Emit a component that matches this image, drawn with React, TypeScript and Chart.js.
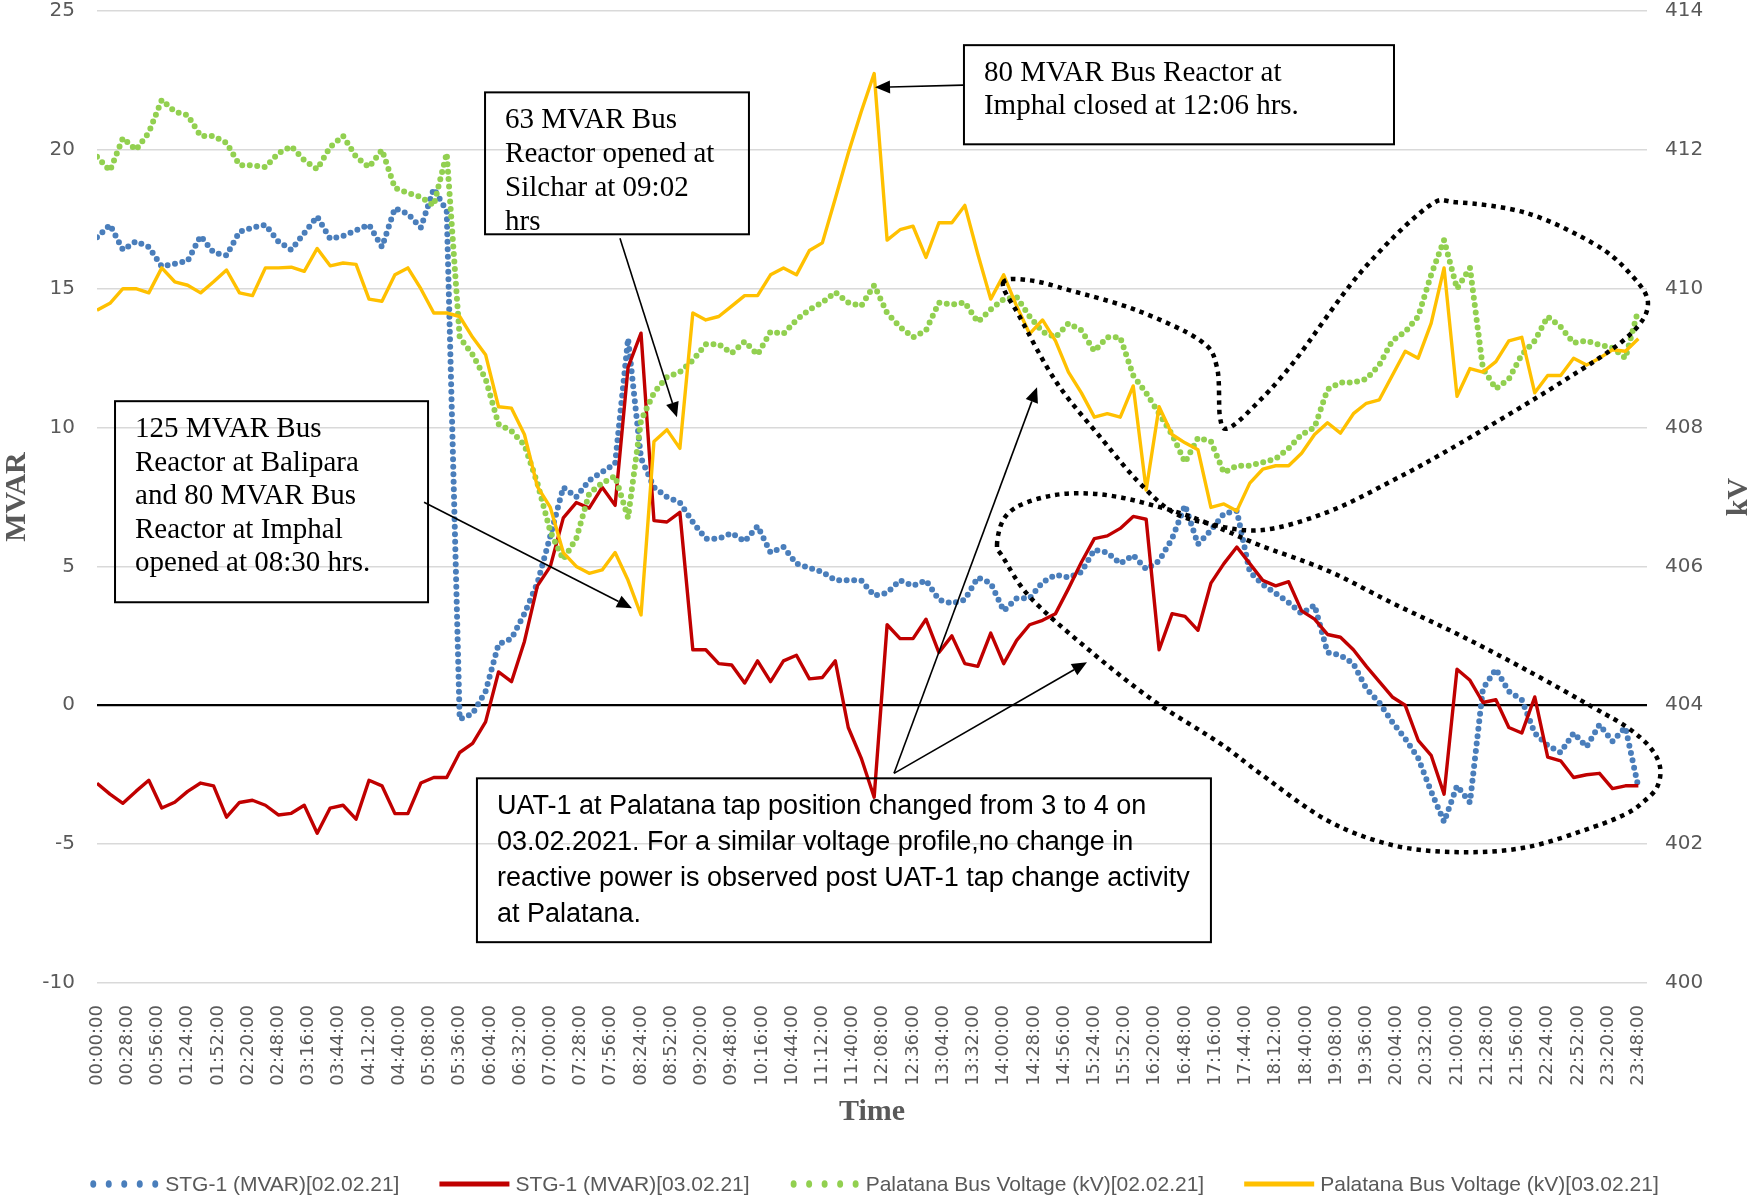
import React, { useEffect, useRef } from "react";
import { Chart, registerables } from "chart.js";

Chart.register(...registerables);

const W = 1756;
const H = 1199;

// sampling grid of the series (minutes after midnight)
const STEP_MIN = 12;
const X_MAX_MIN = 1436;
const X_TICK_STEP_MIN = 28;

const MVAR_MIN = -10;
const MVAR_MAX = 25;
const MVAR_STEP = 5;
const KV_MIN = 400;
const KV_MAX = 414;
const KV_STEP = 2;

const SERIES_LABELS = [
  "STG-1 (MVAR)[02.02.21]",
  "STG-1 (MVAR)[03.02.21]",
  "Palatana Bus Voltage (kV)[02.02.21]",
  "Palatana Bus Voltage (kV)[03.02.21]",
];

// STG-1 reactive power, 02.02.21 (MVAR)
const STG1_MVAR_0202 = [
  16.85, 17.3, 16.4, 16.7, 16.5, 15.8, 15.9, 16.0, 16.9, 16.3,
  16.2, 17.05, 17.2, 17.3, 16.7, 16.4, 17.0, 17.6, 16.8, 16.9,
  17.1, 17.3, 16.5, 17.9, 17.7, 17.2, 18.6, 17.8, -0.5, -0.3,
  0.5, 2.2, 2.4, 3.3, 4.4, 6.1, 7.85, 7.5, 8.1, 8.4,
  8.7, 13.2, 8.9, 7.85, 7.5, 7.3, 6.6, 6.0, 6.0, 6.2,
  5.9, 6.45, 5.5, 5.7, 5.1, 4.95, 4.8, 4.5, 4.5, 4.5,
  3.95, 4.05, 4.5, 4.3, 4.5, 3.8, 3.67, 3.8, 4.6, 4.4,
  3.4, 3.85, 3.85, 4.43, 4.7, 4.6, 4.8, 5.6, 5.5, 5.1,
  5.4, 4.9, 5.2, 6.0, 7.2, 5.8, 6.3, 6.9, 7.0, 4.8,
  4.35, 4.03, 3.7, 3.3, 3.6, 1.9, 1.8, 1.5, 0.6, 0.1,
  -0.6, -1.2, -1.9, -3.1, -4.2, -2.9, -3.5, 0.6, 1.3, 0.5,
  0.2, -1.0, -1.45, -1.7, -1.0, -1.5, -0.7, -1.3, -0.8, -2.95,
];

// STG-1 reactive power, 03.02.21 (MVAR)
const STG1_MVAR_0302 = [
  -2.81, -3.2, -3.53, -3.1, -2.7, -3.7, -3.49, -3.1, -2.8, -2.9,
  -4.03, -3.5, -3.42, -3.6, -3.95, -3.89, -3.6, -4.61, -3.7, -3.6,
  -4.1, -2.7, -2.9, -3.9, -3.9, -2.8, -2.6, -2.6, -1.7, -1.37,
  -0.6, 1.2, 0.85, 2.3, 4.3, 5.0, 6.75, 7.3, 7.1, 7.85,
  7.2, 12.17, 13.4, 6.65, 6.6, 6.95, 2.0, 2.0, 1.5, 1.45,
  0.8, 1.6, 0.85, 1.6, 1.8, 0.95, 1.0, 1.6, -0.8, -1.9,
  -3.31, 2.9, 2.4, 2.4, 3.1, 1.9, 2.5, 1.5, 1.4, 2.6,
  1.5, 2.34, 2.9, 3.06, 3.3, 4.2, 5.15, 6.0, 6.1, 6.37,
  6.8, 6.7, 2.0, 3.3, 3.2, 2.7, 4.4, 5.1, 5.7, 5.1,
  4.5, 4.3, 4.45, 3.4, 3.1, 2.55, 2.45, 2.0, 1.4, 0.85,
  0.3, 0.0, -1.26, -1.8, -3.2, 1.3, 0.9, 0.1, 0.2, -0.8,
  -1.0, 0.3, -1.87, -2.0, -2.6, -2.5, -2.45, -3.0, -2.9, -2.9,
];

// Palatana bus voltage, 02.02.21 (kV)
const BUS_KV_0202 = [
  411.9, 411.7, 412.17, 412.0, 412.25, 412.72, 412.55, 412.5, 412.2, 412.2,
  412.1, 411.78, 411.78, 411.75, 411.95, 412.05, 411.85, 411.72, 412.04, 412.2,
  411.9, 411.75, 412.0, 411.45, 411.38, 411.32, 411.2, 411.95, 409.3, 409.05,
  408.7, 408.05, 407.95, 407.75, 407.2, 406.5, 406.1, 406.4, 407.05, 407.2,
  407.3, 406.7, 408.1, 408.5, 408.73, 408.8, 408.97, 409.2, 409.2, 409.07,
  409.24, 409.05, 409.38, 409.35, 409.55, 409.7, 409.8, 409.95, 409.8, 409.75,
  410.05, 409.65, 409.45, 409.3, 409.4, 409.8, 409.77, 409.8, 409.52, 409.7,
  409.85, 409.88, 409.6, 409.38, 409.3, 409.5, 409.4, 409.1, 409.3, 409.3,
  408.75, 408.5, 408.2, 407.9, 407.5, 407.85, 407.8, 407.35, 407.45, 407.45,
  407.5, 407.55, 407.7, 407.9, 408.0, 408.55, 408.65, 408.65, 408.7, 408.9,
  409.25, 409.38, 409.6, 410.2, 410.7, 410.0, 410.3, 408.85, 408.56, 408.7,
  409.05, 409.25, 409.6, 409.45, 409.22, 409.25, 409.19, 409.15, 409.0, 409.7,
];

// Palatana bus voltage, 03.02.21 (kV)
const BUS_KV_0302 = [
  409.69, 409.79, 410.0, 410.0, 409.94, 410.3, 410.1, 410.05, 409.94, 410.1,
  410.27, 409.94, 409.9, 410.3, 410.3, 410.31, 410.25, 410.58, 410.33, 410.37,
  410.35, 409.85, 409.82, 410.2, 410.3, 410.0, 409.65, 409.65, 409.6, 409.3,
  409.05, 408.3, 408.28, 407.9, 407.15, 406.85, 406.2, 406.0, 405.9, 405.95,
  406.2, 405.8, 405.3, 407.8, 407.97, 407.7, 409.65, 409.55, 409.6, 409.75,
  409.9, 409.9, 410.2, 410.3, 410.2, 410.55, 410.66, 411.3, 411.95, 412.55,
  413.1, 410.7, 410.85, 410.9, 410.45, 410.95, 410.95, 411.2, 410.5, 409.85,
  410.2, 409.75, 409.35, 409.55, 409.25, 408.8, 408.5, 408.15, 408.2, 408.15,
  408.6, 407.1, 408.3, 407.9, 407.78, 407.68, 406.85, 406.9, 406.8, 407.2,
  407.4, 407.45, 407.45, 407.63, 407.9, 408.07, 407.92, 408.2, 408.35, 408.4,
  408.75, 409.1, 409.0, 409.5, 410.3, 408.45, 408.85, 408.8, 408.95, 409.25,
  409.3, 408.5, 408.75, 408.75, 409.0, 408.9, 409.0, 409.12, 409.1, 409.28,
];

const SERIES_COLORS = ["#4a7ebb", "#c00000", "#92d050", "#ffc000"];

// Annotations, anchored in data units (x: minutes, y: MVAR)
const SERIF = '29px "Liberation Serif"';
const SANS = '27px "Liberation Sans"';
const NOTE_BOXES = [
  {
    x0: 16.7, x1: 306.7, yTop: 10.95, yBot: 3.71, font: SERIF, lineH: 33.5,
    lines: ["125 MVAR Bus", "Reactor at Balipara", "and 80 MVAR Bus", "Reactor at Imphal", "opened at 08:30 hrs."],
  },
  {
    x0: 359.5, x1: 604, yTop: 22.07, yBot: 16.96, font: SERIF, lineH: 34,
    lines: ["63 MVAR Bus", "Reactor opened at", "Silchar at 09:02", "hrs"],
  },
  {
    x0: 803.2, x1: 1201.6, yTop: 23.77, yBot: 20.2, font: SERIF, lineH: 33,
    lines: ["80 MVAR Bus Reactor at", "Imphal closed at 12:06 hrs."],
  },
  {
    x0: 352, x1: 1032, yTop: -2.63, yBot: -8.53, font: SANS, lineH: 36,
    lines: [
      "UAT-1 at Palatana tap position changed from 3 to 4 on",
      "03.02.2021. For a similar voltage profile,no change in",
      "reactive power is observed post UAT-1 tap change activity",
      "at Palatana.",
    ],
  },
];

const NOTE_ARROWS = [
  { from: [303, 7.31], to: [495.6, 3.49] },
  { from: [484.5, 16.82], to: [537.3, 10.37] },
  { from: [802.3, 22.33], to: [720.8, 22.25] },
  { from: [738.4, -2.45], to: [870.9, 11.45] },
  { from: [738.4, -2.45], to: [917.2, 1.55] },
];

const LOOP_VOLTAGE = [
  [839.4, 15.2], [864.4, 15.3], [901.4, 14.94], [963.5, 14.22], [1021.9, 13.14],
  [1037.6, 12.17], [1040.4, 10.37], [1047.8, 9.97], [1071.0, 10.73], [1108.0, 12.32],
  [1170.1, 15.56], [1232.2, 17.93], [1260.0, 18.11], [1324.8, 17.72], [1385.9, 16.64],
  [1417.5, 15.66], [1436.9, 14.48], [1417.5, 13.25], [1355.4, 11.6], [1262.7, 9.43],
  [1200.7, 8.1], [1139.5, 6.95], [1077.4, 6.3], [1024.6, 6.59], [994.1, 7.02],
  [963.5, 8.1], [932.0, 9.54], [889.4, 11.6], [855.1, 13.97],
];

const LOOP_MVAR = [
  [833.8, 5.76], [839.4, 6.66], [855.1, 7.2], [885.7, 7.56], [917.2, 7.63],
  [947.7, 7.49], [978.3, 7.2], [1009.8, 6.84], [1045.0, 6.3], [1077.4, 5.76],
  [1139.5, 4.86], [1200.7, 3.67], [1262.7, 2.52], [1324.8, 1.26], [1385.9, -0.07],
  [1417.5, -0.79], [1438.8, -1.51], [1448.1, -2.23], [1445.3, -2.95], [1432.3, -3.49],
  [1417.5, -3.89], [1385.9, -4.39], [1324.8, -5.11], [1262.7, -5.29], [1200.7, -5.04],
  [1139.5, -4.14], [1077.4, -2.45], [1040.4, -1.37], [978.3, 0.18], [917.2, 2.05],
  [864.4, 3.89], [839.4, 5.33],
];

function toPoints(values: number[]) {
  return values.map((v, i) => ({ x: i * STEP_MIN, y: v }));
}

function pad2(n: number) {
  return n < 10 ? "0" + n : String(n);
}

function fmtTime(min: number) {
  const h = Math.floor(min / 60);
  const m = Math.round(min % 60);
  return `${pad2(h)}:${pad2(m)}:00`;
}

function closedSpline(ctx: CanvasRenderingContext2D, pts: number[][]) {
  const n = pts.length;
  ctx.moveTo(pts[0][0], pts[0][1]);
  for (let i = 0; i < n; i++) {
    const p0 = pts[(i - 1 + n) % n];
    const p1 = pts[i];
    const p2 = pts[(i + 1) % n];
    const p3 = pts[(i + 2) % n];
    ctx.bezierCurveTo(
      p1[0] + (p2[0] - p0[0]) / 6,
      p1[1] + (p2[1] - p0[1]) / 6,
      p2[0] - (p3[0] - p1[0]) / 6,
      p2[1] - (p3[1] - p1[1]) / 6,
      p2[0],
      p2[1]
    );
  }
  ctx.closePath();
}

const notesPlugin = {
  id: "notes",
  afterDraw(chart: any) {
    const ctx: CanvasRenderingContext2D = chart.ctx;
    const xs = chart.scales.x;
    const ys = chart.scales.y;
    const area = chart.chartArea;
    const px = (m: number) => xs.getPixelForValue(m);
    const py = (v: number) => ys.getPixelForValue(v);

    ctx.save();

    // text boxes
    for (const b of NOTE_BOXES) {
      const l = px(b.x0);
      const r = px(b.x1);
      const t = py(b.yTop);
      const bt = py(b.yBot);
      ctx.setLineDash([]);
      ctx.strokeStyle = "#000";
      ctx.lineWidth = 2;
      ctx.strokeRect(l, t, r - l, bt - t);
      ctx.fillStyle = "#000";
      ctx.font = b.font;
      ctx.textAlign = "left";
      ctx.textBaseline = "alphabetic";
      b.lines.forEach((s, i) => ctx.fillText(s, l + 20, t + 36 + i * b.lineH));
    }

    // arrows
    for (const a of NOTE_ARROWS) {
      const x1 = px(a.from[0]);
      const y1 = py(a.from[1]);
      const x2 = px(a.to[0]);
      const y2 = py(a.to[1]);
      const ang = Math.atan2(y2 - y1, x2 - x1);
      const len = 15;
      const hw = 6.5;
      const bx = x2 - len * Math.cos(ang);
      const by = y2 - len * Math.sin(ang);
      ctx.strokeStyle = "#000";
      ctx.lineWidth = 1.6;
      ctx.beginPath();
      ctx.moveTo(x1, y1);
      ctx.lineTo(bx, by);
      ctx.stroke();
      ctx.fillStyle = "#000";
      ctx.beginPath();
      ctx.moveTo(x2, y2);
      ctx.lineTo(bx + hw * Math.sin(ang), by - hw * Math.cos(ang));
      ctx.lineTo(bx - hw * Math.sin(ang), by + hw * Math.cos(ang));
      ctx.closePath();
      ctx.fill();
    }

    // dotted loops
    ctx.strokeStyle = "#000";
    ctx.lineWidth = 4.5;
    ctx.lineCap = "butt";
    ctx.setLineDash([4.5, 5]);
    for (const loop of [LOOP_VOLTAGE, LOOP_MVAR]) {
      ctx.beginPath();
      closedSpline(ctx, loop.map((p) => [px(p[0]), py(p[1])]));
      ctx.stroke();
    }
    ctx.setLineDash([]);

    // axis titles
    const midY = (area.top + area.bottom) / 2;
    ctx.fillStyle = "#595959";
    ctx.font = 'bold 30px "Liberation Serif"';
    ctx.textAlign = "center";
    ctx.textBaseline = "middle";
    ctx.save();
    ctx.translate(area.left - 80, midY);
    ctx.rotate(-Math.PI / 2);
    ctx.fillText("MVAR", 0, 0);
    ctx.restore();
    ctx.save();
    ctx.translate(area.right + 92, midY);
    ctx.rotate(-Math.PI / 2);
    ctx.fillText("kV", 0, 0);
    ctx.restore();
    ctx.fillText("Time", (area.left + area.right) / 2, area.bottom + 129);

    // legend
    const ds = chart.data.datasets;
    ctx.font = '21px "Liberation Sans"';
    const symW = 70;
    const symGap = 6;
    const itemGap = 40;
    const widths = ds.map((d: any) => symW + symGap + ctx.measureText(d.label).width);
    const total = widths.reduce((s: number, w: number) => s + w, 0) + itemGap * (ds.length - 1);
    let x = (chart.width - total) / 2 - 4;
    const ly = 1184;
    ds.forEach((d: any, i: number) => {
      if (d.borderDash && d.borderDash.length) {
        ctx.fillStyle = d.borderColor;
        for (let k = 0; k < 5; k++) {
          ctx.beginPath();
          ctx.ellipse(x + 4 + k * 15.5, ly, 3, 3.8, 0, 0, Math.PI * 2);
          ctx.fill();
        }
      } else {
        ctx.strokeStyle = d.borderColor;
        ctx.lineWidth = 5;
        ctx.beginPath();
        ctx.moveTo(x, ly);
        ctx.lineTo(x + symW, ly);
        ctx.stroke();
      }
      ctx.fillStyle = "#595959";
      ctx.textAlign = "left";
      ctx.textBaseline = "middle";
      ctx.fillText(d.label, x + symW + symGap, ly + 1);
      x += widths[i] + itemGap;
    });

    ctx.restore();
  },
};

export default function App() {
  const canvasRef = useRef<HTMLCanvasElement | null>(null);

  useEffect(() => {
    if (!canvasRef.current) return;
    const dotted = {
      borderWidth: 6,
      borderDash: [0, 7.5],
      borderCapStyle: "round" as const,
      borderJoinStyle: "round" as const,
    };
    const solid = {
      borderWidth: 3.4,
      borderJoinStyle: "round" as const,
    };
    const noPadV = (s: any) => {
      s.paddingTop = 0;
      s.paddingBottom = 0;
    };
    const chart = new Chart(canvasRef.current, {
      type: "line",
      data: {
        datasets: [
          { label: SERIES_LABELS[0], data: toPoints(STG1_MVAR_0202), yAxisID: "y", borderColor: SERIES_COLORS[0], order: 3, ...dotted },
          { label: SERIES_LABELS[1], data: toPoints(STG1_MVAR_0302), yAxisID: "y", borderColor: SERIES_COLORS[1], order: 2, ...solid },
          { label: SERIES_LABELS[2], data: toPoints(BUS_KV_0202), yAxisID: "y1", borderColor: SERIES_COLORS[2], order: 1, ...dotted },
          { label: SERIES_LABELS[3], data: toPoints(BUS_KV_0302), yAxisID: "y1", borderColor: SERIES_COLORS[3], order: 0, ...solid },
        ] as any,
      },
      options: {
        responsive: false,
        animation: false,
        events: [],
        layout: { padding: { top: 11, left: 0, right: 0, bottom: 0 } },
        elements: { point: { radius: 0 }, line: { tension: 0 } },
        plugins: { legend: { display: false }, tooltip: { enabled: false }, title: { display: false } },
        scales: {
          x: {
            type: "linear",
            min: 0,
            max: X_MAX_MIN,
            grid: { display: false },
            border: { display: false },
            ticks: {
              stepSize: X_TICK_STEP_MIN,
              includeBounds: false,
              autoSkip: false,
              minRotation: 90,
              maxRotation: 90,
              padding: 14,
              color: "#595959",
              font: { family: '"DejaVu Sans"', size: 18 },
              callback: (v: any) => fmtTime(Number(v)),
            },
            afterFit: (s: any) => {
              s.height = 216;
              s.paddingLeft = 0;
              s.paddingRight = 0;
            },
          },
          y: {
            position: "left",
            min: MVAR_MIN,
            max: MVAR_MAX,
            border: { display: false },
            grid: {
              drawTicks: false,
              color: (c: any) => (c.tick && c.tick.value === 0 ? "#000000" : "#d9d9d9"),
              lineWidth: (c: any) => (c.tick && c.tick.value === 0 ? 2.2 : 1.4),
            },
            ticks: {
              stepSize: MVAR_STEP,
              padding: 22,
              color: "#595959",
              font: { family: '"DejaVu Sans"', size: 20 },
            },
            afterFit: (s: any) => {
              s.width = 97;
              noPadV(s);
            },
          },
          y1: {
            position: "right",
            min: KV_MIN,
            max: KV_MAX,
            border: { display: false },
            grid: { drawOnChartArea: false, drawTicks: false },
            ticks: {
              stepSize: KV_STEP,
              padding: 18,
              color: "#595959",
              font: { family: '"DejaVu Sans"', size: 20 },
            },
            afterFit: (s: any) => {
              s.width = 109;
              noPadV(s);
            },
          },
        },
      } as any,
      plugins: [notesPlugin],
    });
    return () => chart.destroy();
  }, []);

  return (
    <div style={{ position: "absolute", left: 0, top: 0, width: W, height: H, background: "#fff" }}>
      <canvas ref={canvasRef} width={W} height={H} style={{ display: "block" }} />
    </div>
  );
}
